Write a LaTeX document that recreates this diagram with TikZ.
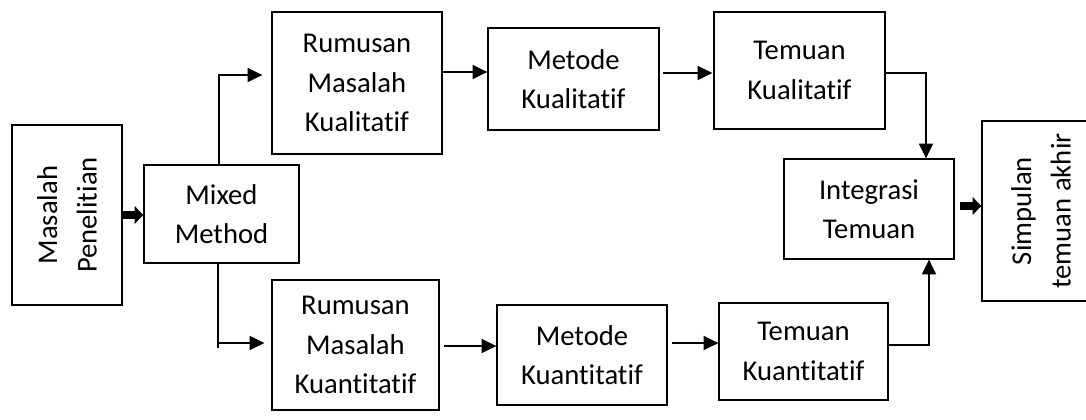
\documentclass[tikz,border=0pt]{standalone}
\usepackage{fontspec}
\setmainfont{Carlito}[Ligatures=NoCommon]
\usetikzlibrary{arrows.meta}
\begin{document}
\begin{tikzpicture}[x=0.75pt,y=-0.75pt,
  box/.style={draw,line width=1pt,inner sep=0pt,align=center,font=\fontsize{21.5}{29.5}\selectfont},
  arr/.style={line width=1pt,-{Triangle[length=11pt,width=10.5pt]}},
  fatarr/.style={line width=5.5pt,-{Triangle[length=6.5pt,width=13pt]}},
  line/.style={line width=1pt}]
\useasboundingbox (0,0) rectangle (1086,419);
\node[box,rotate=90,minimum width=135pt,minimum height=82.5pt] (mp) at (67,215) {Masalah\\Penelitian};
\node[box,minimum width=116.25pt,minimum height=73.5pt] (mm) at (221.5,214) {Mixed\\Method};
\node[box,minimum width=127.5pt,minimum height=106.5pt] (rql) at (357,83) {Rumusan\\Masalah\\Kualitatif};
\node[box,minimum width=128.25pt,minimum height=76.5pt] (mql) at (573.5,79) {Metode\\Kualitatif};
\node[box,minimum width=128.25pt,minimum height=87.75pt] (tql) at (799.5,70.5) {Temuan\\Kualitatif};
\node[box,minimum width=127.5pt,minimum height=75pt] (it) at (869,209) {Integrasi\\Temuan};
\node[box,rotate=90,minimum width=135pt,minimum height=88.5pt] (sta) at (1041,211) {Simpulan\\temuan akhir};
\node[box,minimum width=125.25pt,minimum height=97.5pt] (rqt) at (355.5,345) {Rumusan\\Masalah\\Kuantitatif};
\node[box,minimum width=127.5pt,minimum height=75pt] (mqt) at (582,355) {Metode\\Kuantitatif};
\node[box,minimum width=126.75pt,minimum height=72.75pt] (tqt) at (803.5,351.5) {Temuan\\Kuantitatif};

\coordinate (up) at (219,75);
\coordinate (dn) at (218,343);
\coordinate (dntick) at (218,348);
\coordinate (c1) at (926,73);
\coordinate (c2) at (929,345);

\draw[fatarr] (mp.south) -- (mp.south -| mm.west);
\draw[arr,shorten >=6.75pt] (mm.north -| up) |- (rql.west |- up);
\draw[line] (mm.south -| dn) -- (dntick);
\draw[arr,shorten >=5.25pt] (dn) -- (rqt.west |- dn);
\draw[arr] (rql.east |- 0,72) -- (mql.west |- 0,72);
\draw[arr,shorten <=2.25pt,shorten >=0.75pt] (mql.east |- 0,73) -- (tql.west |- 0,73);
\draw[arr] (tql.east |- c1) -| (it.north -| c1);
\draw[arr,shorten <=3pt] (rqt.east |- 0,346) -- (mqt.west |- 0,346);
\draw[arr,shorten <=3pt] (mqt.east |- 0,343) -- (tqt.west |- 0,343);
\draw[arr] (tqt.east |- c2) -| (it.south -| c2);
\draw[fatarr,shorten <=3.75pt] (it.east |- 0,206) -- (sta.north |- 0,206);
\end{tikzpicture}
\end{document}
